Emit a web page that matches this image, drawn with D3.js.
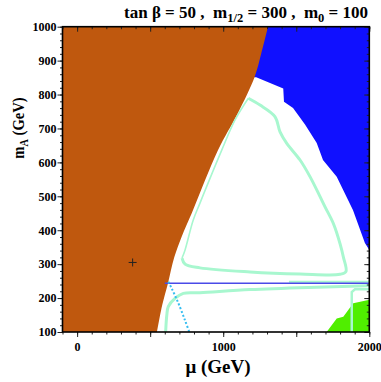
<!DOCTYPE html>
<html>
<head>
<meta charset="utf-8">
<script src="https://cdn.jsdelivr.net/npm/d3@7"></script>
<style>
  body { margin: 0; background: #fff; }
  svg text { font-family: "Liberation Serif", "DejaVu Serif", serif; font-weight: bold; white-space: pre; }
</style>
</head>
<body>
<div id="chart"></div>
<script>
// axis ticks
var xMajor = [0, 500, 1000, 1500, 2000]
	, xLabels = [0, 1000, 2000]
	, yMajor = [100, 200, 300, 400, 500, 600, 700, 800, 900, 1000]
	;

// regions [mu, mA]
var brownEdge = [[1307, 1000], [1260, 920], [1215, 852], [1100, 745], [964, 636], [793, 459], [715, 380], [665, 320], [622, 244], [583, 180], [547, 100]];
var blueRegion = [[1100, 1000], [2000, 1000], [2000, 342], [1970, 362], [1888, 460], [1777, 558], [1683, 607], [1640, 657], [1560, 712], [1478, 760], [1416, 779], [1411, 818], [1226, 851], [1100, 851]];
var greenRegion = [[1708, 100], [1777, 140], [1822, 145], [1890, 185], [1993, 194], [2000, 194], [2000, 100]];

// relic density contours
var loopRight = [[1172, 789], [1252, 769], [1354, 735], [1389, 690], [1435, 656], [1526, 607], [1594, 558], [1663, 499], [1697, 469], [1754, 420], [1800, 360], [1822, 322], [1840, 278], [1799, 270], [1526, 271], [1184, 277], [841, 289], [739, 300], [718, 318]];
var loopLeft = [[718, 318], [739, 342], [795, 430], [841, 480], [990, 636], [1081, 725], [1172, 789]];
var lowerCurve = [[606, 100], [614, 150], [624, 175], [670, 199], [727, 214], [841, 216], [1184, 225], [1640, 232], [1982, 236], [2000, 236]];
var hookCurve = [[1880, 100], [1880, 218], [1902, 226], [2000, 226]];
var rightBand = [[1450, 248], [2000, 248]];

var dottedLine = [[624, 248], [647, 229], [693, 185], [738, 135], [768, 100]];
var higgsLine = [[600, 244], [2000, 244]];
var marker = [380, 305];

var W = 381, H = 382
	, x = d3.scaleLinear().domain([-100, 2000]).range([62.5, 369.3])
	, y = d3.scaleLinear().domain([100, 1000]).range([332, 26.7])
	, line = d3.line().x(function(d){ return x(d[0]); }).y(function(d){ return y(d[1]); })
	, curve = d3.line().curve(d3.curveCatmullRom).x(function(d){ return x(d[0]); }).y(function(d){ return y(d[1]); })
	;

var svg = d3.select('#chart').append('svg').attr('width', W).attr('height', H);

svg.append('clipPath').attr('id', 'clip').append('rect')
	.attr('x', x(-100)).attr('y', y(1000)).attr('width', x(2000) - x(-100)).attr('height', y(100) - y(1000));

var plot = svg.append('g').attr('clip-path', 'url(#clip)');

plot.append('path').attr('d', line(blueRegion) + 'Z').attr('fill', '#1010ff');
plot.append('path').attr('d', line(greenRegion) + 'Z').attr('fill', '#50ee00');
plot.append('path')
	.attr('d', curve(brownEdge) + 'L' + x(-100) + ',' + y(100) + 'L' + x(-100) + ',' + y(1000) + 'Z')
	.attr('fill', '#bf580e');

// mint contours
plot.append('path').attr('d', curve(loopRight)).attr('fill', 'none').attr('stroke', '#a8f7cf').attr('stroke-width', 3);
plot.append('path').attr('d', curve(loopLeft)).attr('fill', 'none').attr('stroke', '#a8f7cf').attr('stroke-width', 1.6);
plot.append('path').attr('d', curve(lowerCurve)).attr('fill', 'none').attr('stroke', '#a8f7cf').attr('stroke-width', 3);
plot.append('path').attr('d', line(hookCurve)).attr('fill', 'none').attr('stroke', '#a8f7cf').attr('stroke-width', 2.5);
plot.append('path').attr('d', line(rightBand)).attr('fill', 'none').attr('stroke', '#a8f7cf').attr('stroke-width', 2);

plot.append('path').attr('d', line(higgsLine)).attr('fill', 'none').attr('stroke', '#4a4ae8').attr('stroke-width', 1.5);
plot.append('path').attr('d', curve(dottedLine)).attr('fill', 'none').attr('stroke', '#35bdf0')
	.attr('stroke-width', 2).attr('stroke-dasharray', '2,2');

// marker
var mx = x(marker[0]), my = y(marker[1]);
plot.append('path').attr('d', 'M' + (mx - 4) + ',' + my + 'H' + (mx + 4) + 'M' + mx + ',' + (my - 4) + 'V' + (my + 4))
	.attr('stroke', '#222').attr('stroke-width', 1);

// axes
var xMinor = d3.range(-100, 2001, 100), yMinor = d3.range(100, 1001, 20);

function axis(g, a){
	g.call(a);
	g.select('.domain').remove();
	g.selectAll('line').attr('stroke', '#222');
	return g;
}

axis(svg.append('g').attr('transform', 'translate(0,' + y(100) + ')'), d3.axisBottom(x).tickValues(xMinor).tickSize(2.5).tickFormat(''));
axis(svg.append('g').attr('transform', 'translate(0,' + y(100) + ')'), d3.axisBottom(x).tickValues(xMajor).tickSize(5)
	.tickFormat(function(d){ return xLabels.indexOf(d) >= 0 ? d : ''; }))
	.selectAll('text').attr('font-size', 12).attr('fill', '#000').attr('dy', '0.95em');

axis(svg.append('g').attr('transform', 'translate(0,' + y(1000) + ')'), d3.axisTop(x).tickValues(xMinor).tickSize(-2.5).tickFormat(''));
axis(svg.append('g').attr('transform', 'translate(0,' + y(1000) + ')'), d3.axisTop(x).tickValues(xMajor).tickSize(-5).tickFormat(''));

axis(svg.append('g').attr('transform', 'translate(' + x(-100) + ',0)'), d3.axisLeft(y).tickValues(yMinor).tickSize(2.5).tickFormat(''));
axis(svg.append('g').attr('transform', 'translate(' + x(-100) + ',0)'), d3.axisLeft(y).tickValues(yMajor).tickSize(5).tickPadding(1).tickFormat(d3.format('d')))
	.selectAll('text').attr('font-size', 12).attr('fill', '#000');

axis(svg.append('g').attr('transform', 'translate(' + x(2000) + ',0)'), d3.axisRight(y).tickValues(yMinor).tickSize(-2.5).tickFormat(''));
axis(svg.append('g').attr('transform', 'translate(' + x(2000) + ',0)'), d3.axisRight(y).tickValues(yMajor).tickSize(-5).tickFormat(''));

svg.append('rect').attr('x', x(-100)).attr('y', y(1000)).attr('width', x(2000) - x(-100)).attr('height', y(100) - y(1000))
	.attr('fill', 'none').attr('stroke', '#000').attr('stroke-width', 1.6);

// title
var t = svg.append('text').attr('x', 368).attr('y', 18).attr('text-anchor', 'end').attr('font-size', 17);
t.append('tspan').text('tan \u03b2 = 50 ,  m');
t.append('tspan').attr('font-size', 12.5).attr('dy', 4).text('1/2');
t.append('tspan').attr('dy', -4).text(' = 300 ,  m');
t.append('tspan').attr('font-size', 12.5).attr('dy', 4).text('0');
t.append('tspan').attr('dy', -4).text(' = 100');

// axis titles
svg.append('text').attr('x', 218).attr('y', 373).attr('text-anchor', 'middle').attr('font-size', 19)
	.text('\u03bc (GeV)');

var yl = svg.append('text').attr('transform', 'translate(24,128) rotate(-90) scale(0.86,1)')
	.attr('text-anchor', 'middle').attr('font-size', 17);
yl.append('tspan').text('m');
yl.append('tspan').attr('font-size', 12).attr('dy', 4).text('A');
yl.append('tspan').attr('dy', -4).text(' (GeV)');
</script>
</body>
</html>
